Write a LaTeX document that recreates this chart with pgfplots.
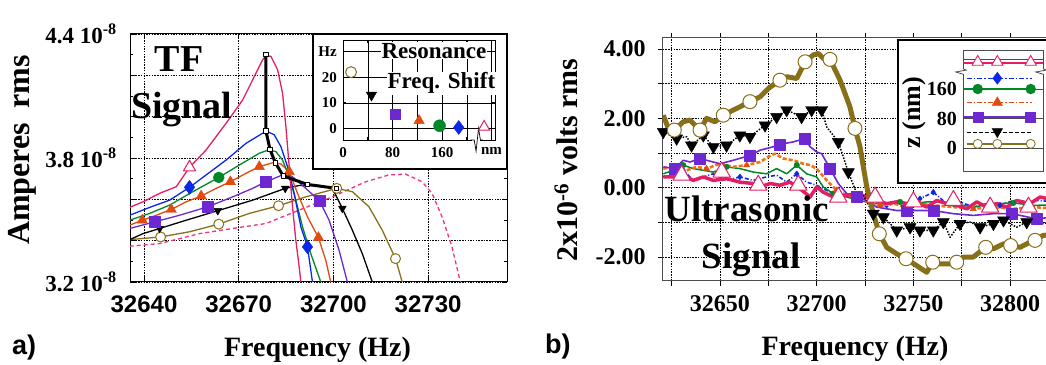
\documentclass[border=0pt]{standalone}
\usepackage{pgfplots}
\pgfplotsset{compat=1.18}
\usepackage{fontspec}
\setmainfont{Liberation Serif}
\newfontfamily\sansfont{Liberation Sans}
\newcommand{\fs}[1]{\fontsize{#1}{#1}\selectfont}
\definecolor{cpink}{RGB}{228,30,100}
\definecolor{cpinkd}{RGB}{240,50,130}
\definecolor{cblue}{RGB}{10,40,230}
\definecolor{cgreen}{RGB}{0,135,40}
\definecolor{corange}{RGB}{225,75,15}
\definecolor{corangeb}{RGB}{240,115,20}
\definecolor{cpurple}{RGB}{110,40,210}
\definecolor{cbrown}{RGB}{135,112,25}
\begin{document}
\begin{tikzpicture}[x=1pt,y=1pt]
% ================= PANEL A =================
\begin{axis}[
  at={(130pt,82pt)}, anchor=south west, scale only axis,
  width=377pt, height=248pt,
  xmin=32635.56, xmax=32755, ymin=3.2, ymax=4.4,
  scaled x ticks=false, scaled y ticks=false,
  xtick={32640,32670,32700,32730}, xticklabels={32640,32670,32700,32730},
  ytick={3.2,3.4,3.6,3.8,4.0,4.2,4.4},
  yticklabels={3.2~10\textsuperscript{-8},,,3.8~10\textsuperscript{-8},,,4.4~10\textsuperscript{-8}},
  minor ytick={3.3,3.5,3.7,3.9,4.1,4.3},
  grid=major,
  major grid style={black, line width=0.6pt, dash pattern=on 1.5pt off 1.2pt},
  axis line style={line width=1pt},
  tick style={black, line width=0.8pt},
  major tick length=5pt, minor tick length=3pt,
  xticklabel style={font=\sansfont\bfseries\fs{24}, inner sep=0pt, yshift=-14pt},
  yticklabel style={font=\bfseries\fs{23}, inner sep=0pt, anchor=east, xshift=-13pt},
  every axis plot/.append style={line join=round},
]
% dashed pink
\addplot[cpinkd, line width=1.3pt, dash pattern=on 4pt off 3pt] coordinates {
(32635.47,3.373)(32644.95,3.386)(32657.58,3.434)(32668.11,3.459)(32678.63,3.483)(32689.16,3.548)(32699.68,3.612)(32710.21,3.685)(32717.58,3.718)(32722.84,3.722)(32728.11,3.685)(32731.26,3.629)(32734.42,3.515)(32737.58,3.370)(32740.21,3.2)(32741,3.15)};
% brown
\addplot[cbrown, line width=1.3pt] coordinates {
(32635.47,3.405)(32645.26,3.418)(32654.42,3.443)(32663.68,3.480)(32673.37,3.532)(32682.63,3.569)(32691.26,3.612)(32701.05,3.653)(32706.0,3.637)(32711.26,3.564)(32715.47,3.451)(32719.68,3.313)(32721.79,3.2)(32722.5,3.15)};
\addplot[only marks, mark=*, mark size=5pt, mark options={fill=white, draw=cbrown, line width=1pt}] coordinates {
(32645.26,3.418)(32663.68,3.480)(32682.63,3.569)(32701.05,3.653)(32719.68,3.313)};
% black
\addplot[black, line width=1.3pt] coordinates {
(32635.47,3.405)(32639.68,3.434)(32644.95,3.459)(32653.37,3.499)(32663.37,3.545)(32674.42,3.596)(32684.74,3.653)(32689.16,3.667)(32695.47,3.667)(32699.68,3.653)(32702.84,3.556)(32706.0,3.451)(32709.16,3.337)(32712.32,3.2)(32713,3.15)};
\addplot[only marks, mark=triangle*, mark size=4.5pt, mark options={fill=black, draw=black, rotate=180}] coordinates {
(32644.95,3.459)(32663.37,3.545)(32684.74,3.653)(32702.84,3.556)};
% purple
\addplot[cpurple, line width=1.3pt] coordinates {
(32635.47,3.459)(32643.37,3.491)(32651.26,3.523)(32660.21,3.564)(32668.11,3.612)(32674.42,3.653)(32678.63,3.685)(32683.89,3.718)(32687.05,3.709)(32691.26,3.653)(32695.68,3.591)(32698.63,3.499)(32701.79,3.354)(32704.42,3.2)(32705,3.15)};
\addplot[only marks, mark=square*, mark size=5.5pt, mark options={fill=cpurple, draw=cpurple}] coordinates {
(32643.37,3.491)(32660.21,3.564)(32678.63,3.685)(32695.68,3.591)};
% orange
\addplot[corange, line width=1.3pt] coordinates {
(32635.47,3.475)(32639.47,3.499)(32643.89,3.523)(32648.63,3.551)(32653.37,3.588)(32658.11,3.616)(32662.84,3.653)(32667.37,3.685)(32672.32,3.726)(32676.53,3.758)(32680.74,3.777)(32683.37,3.771)(32686.0,3.734)(32688.63,3.629)(32691.79,3.515)(32695.26,3.415)(32697.58,3.305)(32699.16,3.2)(32700,3.15)};
\addplot[only marks, mark=triangle*, mark size=6pt, mark options={fill=corange, draw=corange}] coordinates {
(32639.47,3.499)(32648.63,3.551)(32658.11,3.616)(32667.37,3.685)(32676.53,3.758)(32686.0,3.734)(32695.26,3.415)};
% green
\addplot[cgreen, line width=1.3pt] coordinates {
(32635.47,3.499)(32641.79,3.532)(32648.11,3.572)(32655.47,3.637)(32663.68,3.706)(32670.21,3.766)(32676.53,3.823)(32679.47,3.839)(32681.79,3.831)(32683.89,3.790)(32686.0,3.709)(32688.1,3.596)(32690.21,3.467)(32692.84,3.337)(32696.0,3.2)(32697,3.15)};
\addplot[only marks, mark=*, mark size=5.5pt, mark options={fill=cgreen, draw=cgreen}] coordinates {(32663.68,3.706)};
% blue
\addplot[cblue, line width=1.3pt] coordinates {
(32635.47,3.523)(32641.79,3.561)(32648.11,3.596)(32654.42,3.658)(32659.68,3.718)(32666.0,3.790)(32672.32,3.871)(32677.58,3.920)(32679.16,3.928)(32681.26,3.912)(32683.37,3.855)(32685.47,3.758)(32687.58,3.629)(32689.68,3.467)(32691.79,3.370)(32693.37,3.2)(32694,3.15)};
\addplot[only marks, mark=diamond*, mark size=7pt, mark options={fill=cblue, draw=cblue}] coordinates {
(32654.42,3.658)(32691.79,3.370)};
% pink
\addplot[cpink, line width=1.3pt] coordinates {
(32635.47,3.561)(32639.68,3.588)(32644.95,3.629)(32650.21,3.661)(32654.42,3.755)(32659.68,3.839)(32666.0,3.968)(32671.26,4.081)(32674.42,4.178)(32677.58,4.275)(32678.63,4.295)(32680.21,4.292)(32682.32,4.227)(32683.89,4.114)(32684.95,3.952)(32686.0,3.758)(32687.05,3.564)(32688.1,3.402)(32689.16,3.273)(32689.68,3.2)(32690,3.15)};
\addplot[only marks, mark=triangle*, mark size=7pt, mark options={fill=white, draw=cpink, line width=1pt}] coordinates {(32654.42,3.755)};
% resonance path
\addplot[black, line width=3pt, mark=square*, mark size=2.2pt, mark options={fill=white, draw=black, line width=0.8pt}] coordinates {
(32678.63,4.300)(32678.63,3.931)(32679.9,3.842)(32681.6,3.777)(32684.1,3.713)(32691.8,3.672)(32701.0,3.653)};
\end{axis}
% inset A frame
\draw[line width=2pt, fill=white] (313,195) rectangle (507,330);
\begin{axis}[
  at={(343pt,224pt)}, anchor=south west, scale only axis,
  width=152pt, height=100pt,
  xmin=0, xmax=245.6, ymin=-4.6, ymax=34.6,
  xtick={0,40,80,120,160,200,240}, xticklabels={0,,80,,160,,nm},
  ytick={0,10,20,30}, yticklabels={0,10,20,Hz},
  grid=major, major grid style={black, line width=0.5pt},
  axis line style={line width=0.8pt},
  tick style={black, line width=0.6pt}, major tick length=3pt,
  xticklabel style={font=\bfseries\fs{15}, inner sep=0pt, yshift=-7pt},
  yticklabel style={font=\bfseries\fs{15}, inner sep=0pt, anchor=east, xshift=-6pt},
  clip=false,
]
\addplot[black, line width=1.3pt, forget plot] coordinates {(0,0)(245.6,0)};
\node[font=\bfseries\fs{23}, fill=white, inner sep=1pt, anchor=base] at (axis cs:147,27.5) {Resonance};
\node[font=\bfseries\fs{23}, fill=white, inner sep=1pt, anchor=base] at (axis cs:159,15.5) {Freq. Shift};
\addplot[only marks, mark=*, mark size=5.5pt, mark options={fill=white, draw=cbrown, line width=1pt}] coordinates {(13,22)};
\addplot[only marks, mark=triangle*, mark size=6pt, mark options={fill=black, rotate=180}] coordinates {(46,13)};
\addplot[only marks, mark=square*, mark size=5pt, mark options={fill=cpurple, draw=cpurple}] coordinates {(85,5.5)};
\addplot[only marks, mark=triangle*, mark size=6pt, mark options={fill=corange, draw=corange}] coordinates {(123,3)};
\addplot[only marks, mark=*, mark size=6pt, mark options={fill=cgreen, draw=cgreen}] coordinates {(156,1)};
\addplot[only marks, mark=diamond*, mark size=7pt, mark options={fill=cblue, draw=cblue}] coordinates {(187,0.3)};
\addplot[only marks, mark=triangle*, mark size=6.5pt, mark options={fill=white, draw=cpink, line width=1pt}] coordinates {(228,0.5)};
\fill[white] (axis cs:208,-3.6) rectangle (axis cs:222,-5.6);
\draw[black, line width=0.7pt] (axis cs:206,-4.6) -- (axis cs:212,-4.6) -- (axis cs:215,-9) -- (axis cs:219,0) -- (axis cs:222,-4.6) -- (axis cs:226,-4.6);
\end{axis}
% ================= PANEL B =================
\begin{axis}[
  at={(662.7pt,83pt)}, anchor=south west, scale only axis,
  width=405.4pt, height=243pt,
  xmin=32620.4, xmax=32830, ymin=-2.692, ymax=4.317,
  scaled x ticks=false, scaled y ticks=false,
  xtick={32625,32650,32675,32700,32725,32750,32775,32800,32825},
  xticklabels={,32650,,32700,,32750,,32800,},
  ytick={-2,-1,0,1,2,3,4}, yticklabels={-2.00,,0.00,,2.00,,4.00},
  grid=major,
  major grid style={black, line width=0.6pt, dash pattern=on 1.5pt off 1.2pt},
  axis line style={line width=1pt, black!70},
  tick style={black, line width=0.8pt}, tick align=outside, major tick length=5pt,
  xticklabel style={font=\bfseries\fs{24}, inner sep=0pt, yshift=-9pt},
  yticklabel style={font=\bfseries\fs{24}, inner sep=0pt, anchor=east, xshift=-12pt},
  every axis plot/.append style={line join=round},
]
% blue dash-dot
\addplot[cblue, line width=1.6pt, dash pattern=on 4pt off 2pt on 1pt off 2pt] coordinates {
(32620.7,0.31)(32625.9,0.40)(32631.0,0.50)(32636.2,0.21)(32641.4,0.31)(32646.6,0.40)(32653.4,0.21)(32660.3,0.31)(32667.2,0.21)(32674.1,0.31)(32679.3,0.36)(32684.5,0.16)(32689.7,0.40)(32694.8,0.16)(32700.0,0.07)(32703.4,-0.03)(32708.6,-0.17)(32715.5,-0.27)(32722.4,-0.32)(32729.3,-0.41)(32736.2,-0.56)(32741.4,-0.37)(32746.6,-0.46)(32753.4,-0.32)(32760.3,-0.13)(32767.2,-0.46)(32774.1,-0.41)(32781.0,-0.56)(32787.9,-0.46)(32794.8,-0.51)(32801.7,-0.37)(32808.6,-0.41)(32813.8,-0.37)(32822,-0.40)};
\addplot[only marks, mark=diamond*, mark size=3pt, mark options={fill=cblue, draw=cblue}] coordinates {
(32631.0,0.50)(32660.3,0.31)(32689.7,0.40)(32722.4,-0.32)(32753.4,-0.32)(32760.3,-0.13)(32794.8,-0.51)};
% green
\addplot[cgreen, line width=1.5pt] coordinates {
(32620.7,0.40)(32625.9,0.50)(32631.0,0.65)(32636.2,0.55)(32641.4,0.50)(32646.6,0.45)(32653.4,0.60)(32660.3,0.55)(32667.2,0.45)(32674.1,0.40)(32679.3,0.55)(32684.5,0.40)(32689.7,0.65)(32694.8,0.40)(32700.0,0.31)(32703.4,0.02)(32708.6,-0.17)(32715.5,-0.27)(32722.4,-0.37)(32729.3,-0.46)(32736.2,-0.46)(32743.1,-0.41)(32750.0,-0.46)(32756.9,-0.41)(32763.8,-0.41)(32770.7,-0.46)(32781.0,-0.56)(32791.4,-0.46)(32801.7,-0.44)(32812.1,-0.51)(32822,-0.50)};
\addplot[only marks, mark=*, mark size=2.8pt, mark options={fill=cgreen, draw=cgreen}] coordinates {
(32631.0,0.65)(32653.4,0.60)(32689.7,0.65)(32708.6,-0.17)(32743.1,-0.41)(32770.7,-0.46)(32801.7,-0.44)};
% orange dashed
\addplot[corangeb, line width=2.6pt, dash pattern=on 4pt off 2pt] coordinates {
(32620.7,0.55)(32625.9,0.60)(32632.8,0.50)(32637.9,0.60)(32643.1,0.55)(32650.0,0.69)(32656.9,0.60)(32663.8,0.65)(32670.7,0.74)(32675.0,0.89)(32678.4,0.98)(32682.8,0.84)(32687.9,0.79)(32693.1,0.69)(32696.6,0.65)(32700.0,0.55)(32705.2,0.21)(32710.3,-0.08)(32715.5,-0.22)(32720.7,-0.27)(32725.9,-0.41)(32732.8,-0.51)(32739.7,-0.46)(32746.6,-0.56)(32753.4,-0.46)(32760.3,-0.51)(32770.7,-0.56)(32781.0,-0.61)(32791.4,-0.56)(32801.7,-0.61)(32812.1,-0.56)(32822,-0.60)};
\addplot[only marks, mark=triangle*, mark size=3.5pt, mark options={fill=corange, draw=corange}] coordinates {
(32643.1,0.55)(32663.8,0.65)(32710.3,-0.08)(32732.8,-0.51)(32753.4,-0.46)(32781.0,-0.61)};
% purple
\addplot[cpurple, line width=1.6pt] coordinates {
(32620.7,0.60)(32626.7,0.55)(32631.0,0.79)(32634.5,0.74)(32639.7,0.84)(32643.1,0.79)(32650.0,0.69)(32656.9,0.79)(32665.5,0.93)(32670.7,1.08)(32677.6,1.18)(32681.0,1.25)(32687.9,1.32)(32694.0,1.42)(32696.6,1.18)(32700.0,1.03)(32702.6,0.98)(32706.9,0.55)(32711.2,0.12)(32715.5,-0.17)(32720.7,-0.25)(32725.9,-0.37)(32731.0,-0.56)(32736.2,-0.61)(32741.4,-0.66)(32746.6,-0.66)(32751.7,-0.66)(32760.3,-0.66)(32770.7,-0.75)(32781.0,-0.80)(32791.4,-0.75)(32800.9,-0.75)(32813.8,-0.90)(32822,-0.85)};
\addplot[only marks, mark=square*, mark size=5.5pt, mark options={fill=cpurple, draw=cpurple}] coordinates {
(32626.7,0.55)(32639.7,0.84)(32665.5,0.93)(32681.0,1.25)(32694.0,1.42)(32706.9,0.55)(32720.7,-0.25)(32746.6,-0.66)(32760.3,-0.66)(32800.9,-0.75)(32813.8,-0.90)};
% pink thick
\addplot[cpink, line width=3.5pt] coordinates {
(32620.7,0.31)(32625.9,0.31)(32631.0,0.36)(32636.2,0.21)(32641.4,0.31)(32646.6,0.21)(32653.4,0.26)(32660.3,0.16)(32667.2,0.12)(32670.7,0.02)(32675.9,0.12)(32681.0,0.07)(32686.2,0.16)(32691.4,-0.03)(32696.6,-0.27)(32700.0,0.02)(32703.4,-0.13)(32708.6,-0.27)(32715.5,-0.22)(32720.7,-0.17)(32725.9,-0.27)(32731.0,-0.37)(32736.2,-0.46)(32741.4,-0.41)(32746.6,-0.46)(32751.7,-0.41)(32756.9,-0.56)(32762.1,-0.37)(32767.2,-0.46)(32772.4,-0.51)(32777.6,-0.61)(32782.8,-0.41)(32787.9,-0.56)(32793.1,-0.46)(32798.3,-0.56)(32803.4,-0.37)(32810.3,-0.46)(32815.5,-0.27)(32822,-0.35)};
\addplot[only marks, mark=triangle*, mark size=10pt, mark options={fill=white, draw=cpink, line width=1pt}] coordinates {
(32630.2,0.36)(32650.9,0.45)(32669.8,0.07)(32690.5,0.07)(32711.2,-0.27)(32730.2,-0.27)(32750.0,-0.41)(32770.7,-0.37)(32789.7,-0.56)(32809.5,-0.56)};
% black dotted
\addplot[black, line width=1.5pt, dash pattern=on 1.5pt off 1.5pt] coordinates {
(32620.7,1.61)(32627.6,1.42)(32632.8,1.47)(32635.3,1.22)(32641.4,1.51)(32646.6,1.18)(32653.4,1.22)(32660.3,1.51)(32665.5,1.47)(32673.3,1.80)(32679.3,2.04)(32684.5,2.24)(32692.2,2.04)(32697.4,2.24)(32702.6,2.24)(32705.2,1.75)(32711.2,1.32)(32716.4,0.45)(32720.7,-0.17)(32724.1,-0.22)(32729.3,-0.75)(32734.5,-0.85)(32741.4,-1.23)(32748.3,-1.14)(32753.4,-1.23)(32760.3,-1.23)(32765.5,-0.99)(32769.0,-1.43)(32774.1,-1.04)(32779.3,-0.99)(32784.5,-1.14)(32791.4,-1.04)(32796.6,-0.94)(32803.4,-1.14)(32808.6,-0.99)(32815.5,-1.04)(32822,-1.00)};
\addplot[only marks, mark=triangle*, mark size=7pt, mark options={fill=black, draw=black, rotate=180}] coordinates {
(32620.7,1.61)(32627.6,1.42)(32635.3,1.22)(32641.4,1.51)(32646.6,1.18)(32653.4,1.22)(32660.3,1.51)(32665.5,1.47)(32673.3,1.80)(32679.3,2.04)(32684.5,2.24)(32692.2,2.04)(32697.4,2.24)(32702.6,2.24)(32711.2,1.32)(32716.4,0.45)(32729.3,-0.75)(32734.5,-0.85)(32741.4,-1.23)(32748.3,-1.14)(32753.4,-1.23)(32760.3,-1.23)(32765.5,-0.99)(32774.1,-1.04)(32784.5,-1.14)(32791.4,-1.04)(32796.6,-0.94)(32808.6,-0.99)};
% brown thick
\addplot[cbrown, line width=5pt] coordinates {
(32620.7,2.09)(32623.3,1.71)(32626.4,1.66)(32631.0,1.90)(32634.5,1.95)(32639.7,1.66)(32643.1,2.00)(32647.4,1.90)(32651.7,2.09)(32656.9,2.24)(32660.3,2.33)(32665.5,2.48)(32670.7,2.62)(32675.0,2.86)(32681.0,3.10)(32684.5,3.20)(32689.7,3.15)(32694.0,3.63)(32698.3,3.83)(32700.9,3.87)(32703.4,3.73)(32706.9,3.70)(32712.1,3.10)(32717.2,2.33)(32719.8,1.71)(32722.4,1.18)(32725.9,0.02)(32729.3,-0.75)(32732.4,-1.33)(32736.2,-1.72)(32741.4,-1.91)(32746.2,-2.05)(32751.7,-2.25)(32756.9,-2.44)(32760.0,-2.15)(32763.8,-2.20)(32769.0,-2.20)(32772.4,-2.15)(32775.9,-2.00)(32781.0,-2.00)(32787.4,-1.72)(32791.4,-1.76)(32796.6,-1.62)(32800.3,-1.67)(32805.2,-1.72)(32810.3,-1.57)(32812.9,-1.52)(32816.9,-1.38)(32822,-1.35)};
\addplot[only marks, mark=*, mark size=7pt, mark options={fill=white, draw=cbrown, line width=1pt}] coordinates {
(32626.4,1.66)(32639.7,1.66)(32651.7,2.09)(32665.5,2.48)(32681.0,3.10)(32694.0,3.63)(32706.9,3.70)(32719.8,1.71)(32732.4,-1.33)(32746.2,-2.05)(32760.0,-2.15)(32772.4,-2.15)(32787.4,-1.72)(32800.3,-1.67)(32812.9,-1.52)};
\end{axis}
% inset B frame
\draw[line width=2pt, fill=white] (898,181) rectangle (1090,324);
\begin{axis}[
  at={(963pt,192.3pt)}, anchor=south west, scale only axis,
  width=80pt, height=121pt,
  xmin=0, xmax=10, ymin=-63.1, ymax=263.4,
  xtick=\empty,
  ytick={0,80,160,240}, yticklabels={0,80,160,},
  grid=major, major grid style={black!70, line width=0.6pt},
  axis line style={line width=0.8pt, black!70},
  tick style={draw=none},
  yticklabel style={font=\bfseries\fs{20}, inner sep=0pt, anchor=east, xshift=-6pt},
  clip=false,
]
\addplot[cbrown, line width=1.5pt] coordinates {(0.46,12)(8.59,12)};
\addplot[only marks, mark=*, mark size=4.5pt, mark options={fill=white, draw=cbrown, line width=0.8pt}] coordinates {(1.84,12)(4.29,12)(8.46,12)};
\addplot[black, line width=1.2pt, dash pattern=on 4pt off 2pt] coordinates {(0.46,42)(8.59,42)};
\addplot[only marks, mark=triangle*, mark size=6pt, mark options={fill=black, rotate=180}] coordinates {(4.29,45)};
\addplot[cpurple, line width=2.2pt] coordinates {(0,85)(8.59,85)};
\addplot[only marks, mark=square*, mark size=5pt, mark options={fill=cpurple, draw=cpurple}] coordinates {(1.84,85)(8.46,85)};
\addplot[corange, line width=1.3pt, dash pattern=on 5pt off 2pt on 1.5pt off 2pt] coordinates {(0.46,123)(8.59,123)};
\addplot[only marks, mark=triangle*, mark size=6pt, mark options={fill=corange, draw=corange}] coordinates {(4.29,123)};
\addplot[cgreen, line width=1.1pt] coordinates {(0,160)(8.59,160)};
\addplot[only marks, mark=*, mark size=5pt, mark options={fill=cgreen, draw=cgreen}] coordinates {(1.84,160)(8.46,160)};
\addplot[cblue, line width=1.3pt, dash pattern=on 5pt off 2pt on 1.5pt off 2pt] coordinates {(0.46,189)(8.59,189)};
\addplot[only marks, mark=diamond*, mark size=6pt, mark options={fill=cblue, draw=cblue}] coordinates {(4.29,189)};
\addplot[cpink, line width=2pt] coordinates {(0,231)(10,231)};
\addplot[only marks, mark=triangle*, mark size=6.5pt, mark options={fill=white, draw=cpink, line width=0.9pt}] coordinates {(1.84,233)(4.29,233)(8.46,233)};
\fill[white] (axis cs:-0.2,200) rectangle (axis cs:0.2,215);
\draw[black!70, line width=0.8pt] (axis cs:0,200) -- (axis cs:-0.9,206) -- (axis cs:0.4,211) -- (axis cs:0,215);
\fill[white] (axis cs:9.8,200) rectangle (axis cs:10.2,215);
\draw[black!70, line width=0.8pt] (axis cs:10,200) -- (axis cs:9.1,206) -- (axis cs:10.4,211) -- (axis cs:10,215);
\end{axis}
% ================= TEXT =================
\node[font=\bfseries\fs{38}, anchor=base] at (179,292.3) {TF};
\node[font=\bfseries\fs{38}, anchor=base] at (181.7,245.7) {Signal};
\node[font=\bfseries\fs{37}, anchor=base] at (746.7,142.3) {Ultrasonic};
\node[font=\bfseries\fs{37}, anchor=base] at (751.3,95.7) {Signal};
\node[font=\bfseries\fs{32}, rotate=90] at (22,214) {Amperes\hspace{0.45em}rms};
\node[font=\bfseries\fs{30}, rotate=90] at (566,204) {2x10\textsuperscript{-6} volts rms};
\node[font=\bfseries\fs{26}, rotate=90] at (914,251.5) {z (nm)};
\node[font=\bfseries\fs{28}, anchor=base] at (317.5,8) {Frequency (Hz)};
\node[font=\bfseries\fs{28}, anchor=base] at (855,9) {Frequency (Hz)};
\node[font=\sansfont\bfseries\fs{27}, anchor=base west, inner sep=0pt] at (12,10) {a)};
\node[font=\sansfont\bfseries\fs{27}, anchor=base west, inner sep=0pt] at (545,11) {b)};
\pgfresetboundingbox
\useasboundingbox (0,0) rectangle (1046,364);
\end{tikzpicture}
\end{document}
